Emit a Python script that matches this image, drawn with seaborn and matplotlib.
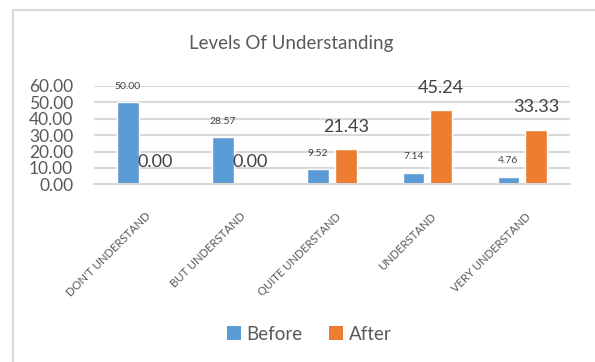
import matplotlib
matplotlib.use("Agg")
import matplotlib.pyplot as plt
import matplotlib.transforms as mtransforms
from matplotlib.lines import Line2D
from matplotlib.patches import Patch
import pandas as pd
import seaborn as sns

categories = ["DON'T UNDERSTAND", "BUT UNDERSTAND", "QUITE UNDERSTAND",
              "UNDERSTAND", "VERY UNDERSTAND"]
before = [50.00, 28.57, 9.52, 7.14, 4.76]
after = [0.00, 0.00, 21.43, 45.24, 33.33]
series = ["Before", "After"]
y_ticks = [0, 10, 20, 30, 40, 50, 60]

BLUE = "#5B9BD5"
ORANGE = "#ED7D31"
GRID = "#D9D9D9"
TEXT = "#595959"
FONT = "Lato"

sns.set_theme(style="white")
plt.rcParams["font.family"] = [FONT, "DejaVu Sans"]

df = pd.DataFrame({
    "category": categories * 2,
    "value": before + after,
    "series": [series[0]] * len(categories) + [series[1]] * len(categories),
})

W, H = 595, 362
fig = plt.figure(figsize=(W / 100, H / 100), dpi=100)
ax = fig.add_axes([94 / W, (H - 184.3) / H, (570 - 94) / W, (184.3 - 86) / H])

sns.barplot(data=df, x="category", y="value", hue="series",
            palette=[BLUE, ORANGE], width=0.58, gap=0.22,
            saturation=1, legend=False, ax=ax, errorbar=None)

ax.set_xlim(-0.5, len(categories) - 0.5)
ax.set_ylim(0, 60)
ax.set_yticks(y_ticks)
ax.set_yticklabels([f"{t:.2f}" for t in y_ticks], fontsize=12.5, color=TEXT)
ax.tick_params(axis="y", length=0, pad=15)
ax.yaxis.grid(True, color=GRID, linewidth=1.5)
ax.set_axisbelow(True)
for side in ("left", "right", "top"):
    ax.spines[side].set_visible(False)
ax.spines["bottom"].set_color(GRID)
ax.spines["bottom"].set_linewidth(1.5)
ax.set_xlabel("")
ax.set_ylabel("")

ax.tick_params(axis="x", length=0, pad=19)
ax.set_xticks(range(len(categories)))
ax.set_xticklabels(categories, rotation=45, ha="right",
                   rotation_mode="anchor", fontsize=8.1, color=TEXT)
shift = mtransforms.ScaledTranslation(3 / 100, 0, fig.dpi_scale_trans)
for lbl in ax.get_xticklabels():
    lbl.set_transform(lbl.get_transform() + shift)

# value labels: small above Before bars, large above After bars
bars_before, bars_after = ax.containers[0], ax.containers[1]
for rect, v in zip(bars_before, before):
    ax.annotate(f"{v:.2f}", (rect.get_x() + rect.get_width() / 2, v),
                xytext=(0, 11.3), textcoords="offset points",
                ha="center", va="center", fontsize=7.5, color="#404040")
for rect, v in zip(bars_after, after):
    ax.annotate(f"{v:.2f}", (rect.get_x() + rect.get_width() / 2, v),
                xytext=(0, 16), textcoords="offset points",
                ha="center", va="center", fontsize=13, color="#404040")

fig.text(291 / W, 1 - 44 / H, "Levels Of Understanding", ha="center",
         va="center", fontsize=13.5, color=TEXT)

handles = [Patch(facecolor=BLUE, edgecolor="none"),
           Patch(facecolor=ORANGE, edgecolor="none")]
fig.legend(handles, series, loc="center", bbox_to_anchor=(309 / W, 1 - 334 / H),
           ncol=2, frameon=False, fontsize=13.5, labelcolor=TEXT,
           handlelength=0.75, handleheight=0.75, handletextpad=0.3,
           columnspacing=1.4)

# chart frame
fig.add_artist(Line2D([13 / W, 1], [1 - 9.5 / H, 1 - 9.5 / H],
                      transform=fig.transFigure, color=GRID, linewidth=1.5))
fig.add_artist(Line2D([13 / W, 13 / W], [0, 1 - 9.5 / H],
                      transform=fig.transFigure, color=GRID, linewidth=1.5))

fig.savefig("out.png", dpi=100, facecolor="white")
